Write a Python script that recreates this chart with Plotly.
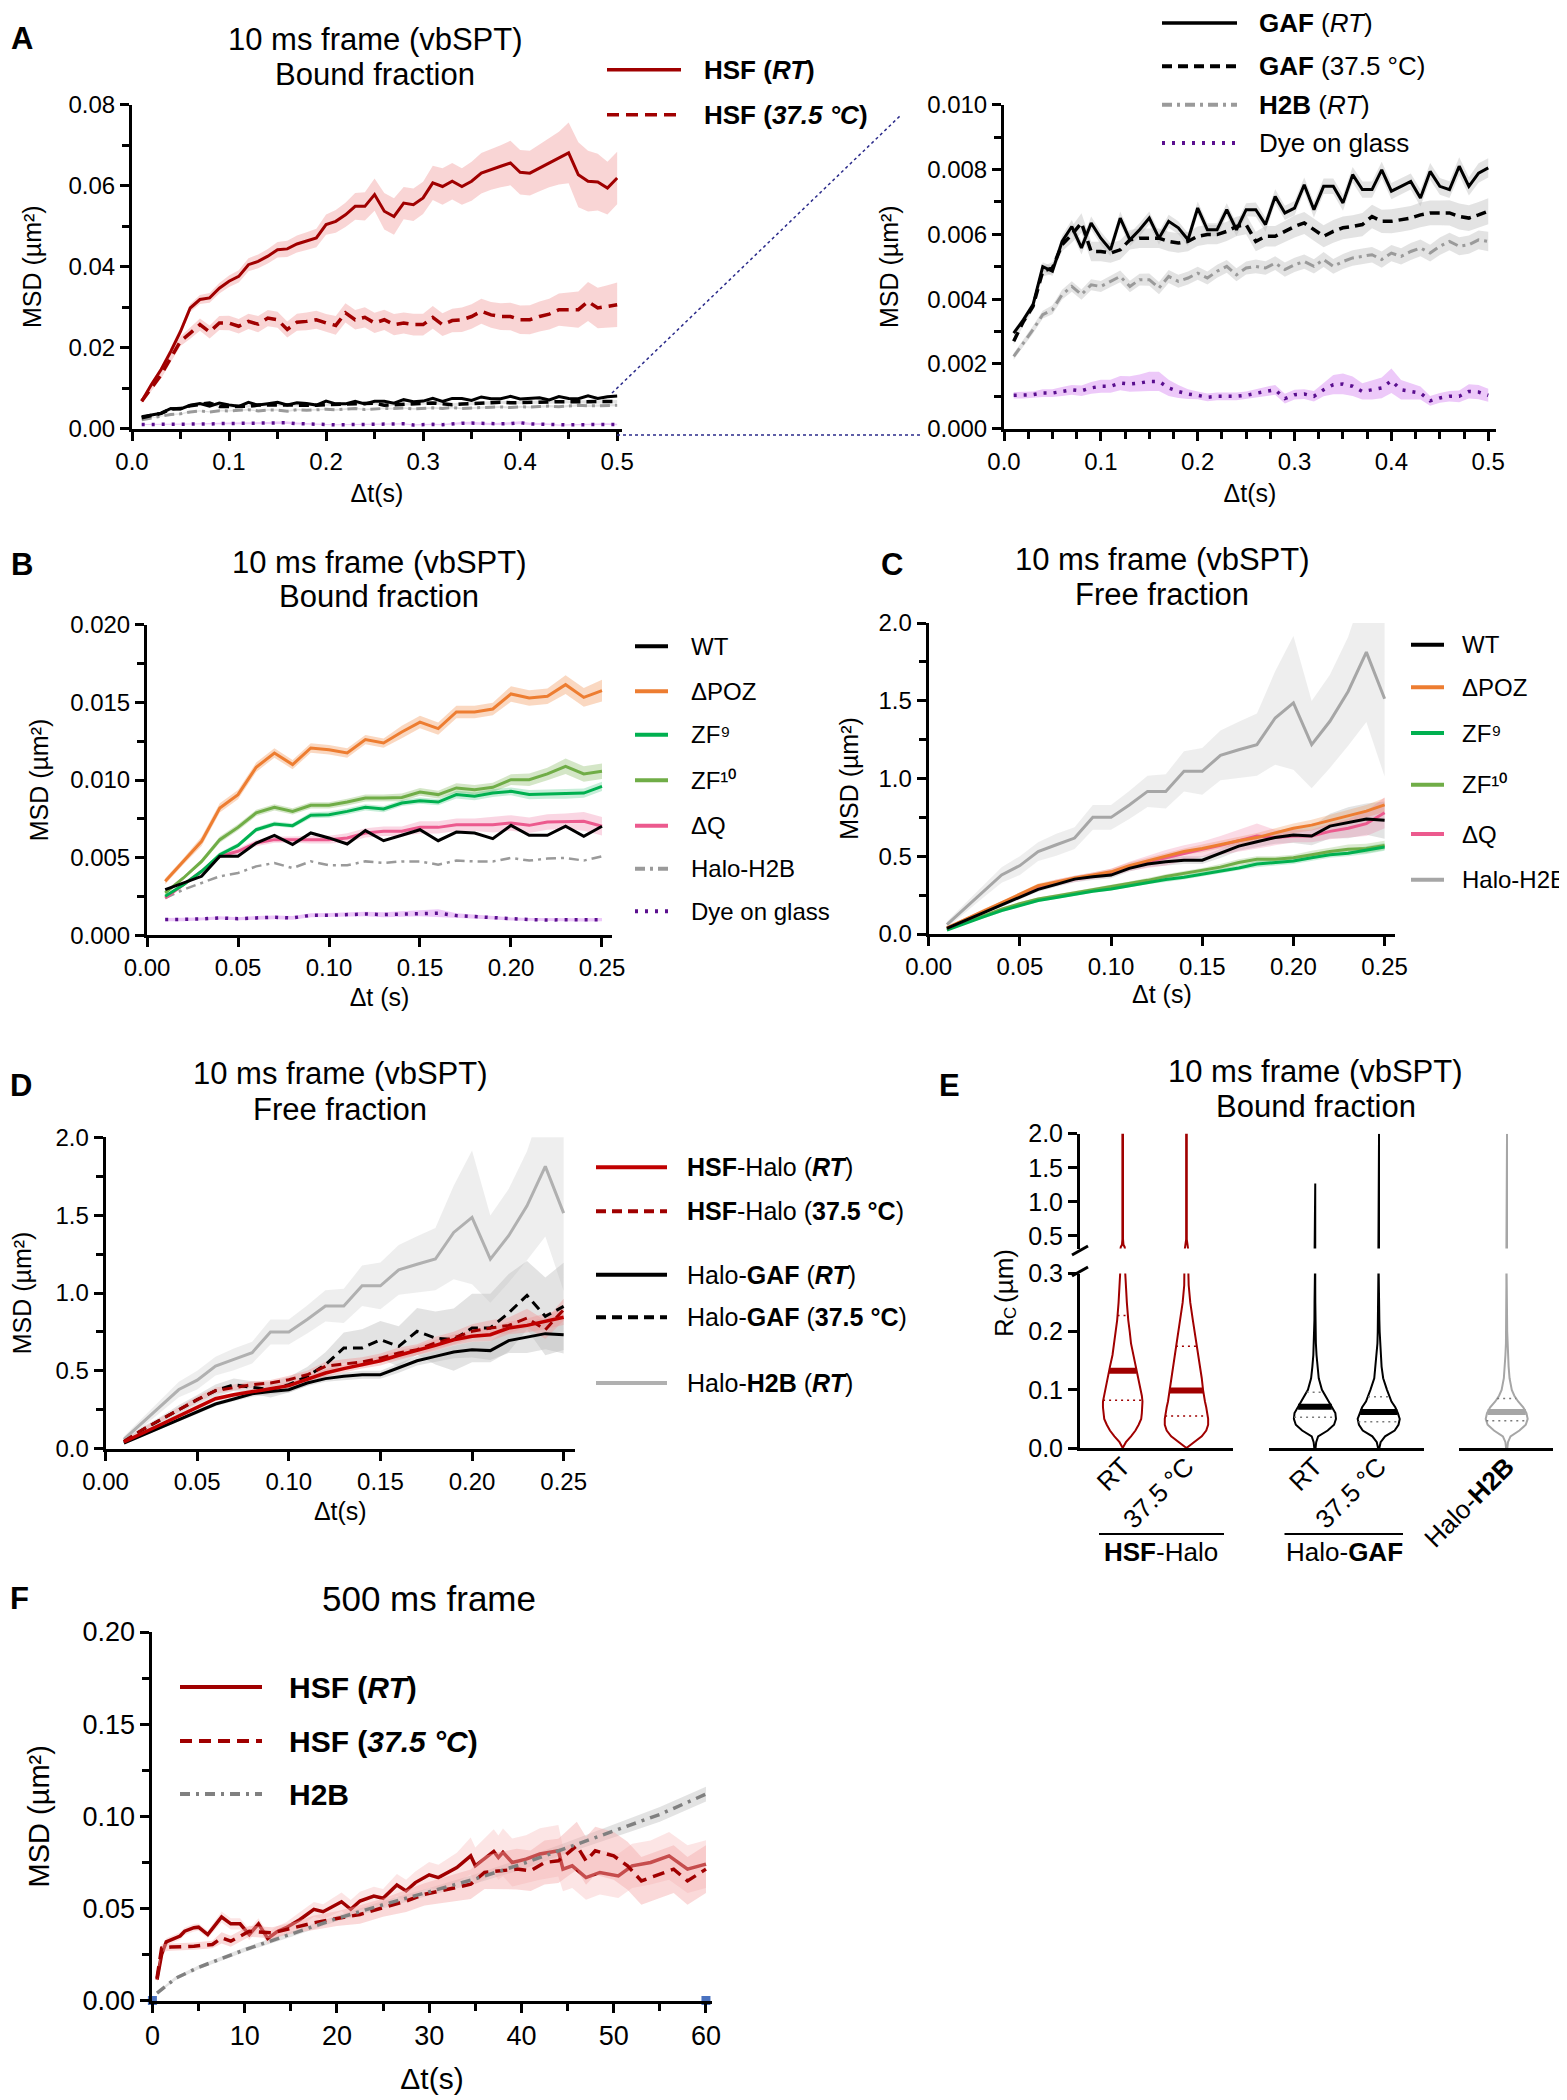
import numpy as np
import plotly.graph_objects as go

W, H = 1567, 2100
FONT = "Liberation Sans, Arial, Helvetica, sans-serif"

# ======================= DATA =======================
# ---- Panel A: 10 ms frame, bound fraction (Δt = 0.01 ... 0.50 s) ----
dt_A = np.round(np.arange(1, 51) * 0.01, 2)
hsf_rt_A = [0.0068,0.0109,0.0146,0.0191,0.024,0.0298,0.0319,0.0323,0.0347,0.0364,
            0.0376,0.0405,0.0413,0.0426,0.0442,0.0444,0.0456,0.0463,0.0471,0.0504,
            0.0512,0.0528,0.0549,0.0549,0.0578,0.0537,0.0524,0.0557,0.0553,0.057,
            0.0607,0.0598,0.0611,0.0598,0.0611,0.0631,0.064,0.0648,0.0656,0.0633,
            0.0631,0.0644,0.0656,0.0668,0.0681,0.0627,0.0611,0.0609,0.0594,0.0619]
hsf_rt_A_err = [0.0005,0.0006,0.0007,0.0008,0.0009,0.001,0.0011,0.0012,0.0013,0.0014,
                0.0015,0.0016,0.0017,0.0018,0.0019,0.002,0.0021,0.0022,0.0023,0.0025,
                0.0028,0.003,0.0033,0.0035,0.004,0.0045,0.0045,0.004,0.004,0.004,
                0.0042,0.0045,0.0045,0.0045,0.0048,0.005,0.005,0.0052,0.0055,0.0055,
                0.0055,0.0058,0.006,0.0065,0.0075,0.008,0.0075,0.007,0.0065,0.0065]
hsf_37_A = [0.0068,0.010,0.0133,0.0175,0.0216,0.0236,0.0257,0.0239,0.0261,0.0261,
            0.0253,0.0265,0.0258,0.0273,0.0269,0.0245,0.0263,0.0265,0.0269,0.0261,
            0.0255,0.0286,0.0269,0.0275,0.0261,0.0269,0.0257,0.0261,0.0257,0.0257,
            0.0275,0.0257,0.0267,0.0269,0.0277,0.029,0.0281,0.0277,0.0277,0.0269,
            0.0269,0.0277,0.0283,0.0294,0.0294,0.0294,0.0314,0.0298,0.0302,0.0306]
hsf_37_A_err = [0.0005,0.0007,0.0009,0.001,0.0012,0.0014,0.0015,0.0016,0.0017,0.0018,
                0.0018,0.0019,0.002,0.002,0.002,0.002,0.0021,0.0022,0.0022,0.0022,
                0.0023,0.0024,0.0024,0.0025,0.0025,0.0025,0.0026,0.0026,0.0027,0.0027,
                0.0028,0.0028,0.0029,0.003,0.003,0.0031,0.0032,0.0033,0.0034,0.0035,
                0.0036,0.0037,0.0038,0.004,0.0042,0.0045,0.0048,0.005,0.0052,0.0055]
gaf_rt_A = [0.00295,0.00336,0.00383,0.0050,0.00486,0.00578,0.00624,0.00558,0.00635,0.00588,
            0.00552,0.0065,0.00583,0.00614,0.0065,0.00588,0.0064,0.0062,0.00583,0.00681,
            0.00614,0.00614,0.00676,0.00614,0.00676,0.00676,0.0063,0.00717,0.00666,0.00681,
            0.00753,0.00676,0.00748,0.00748,0.00697,0.00784,0.00738,0.00738,0.00799,0.00733,
            0.00748,0.00763,0.00712,0.00794,0.00748,0.00738,0.0081,0.00748,0.00789,0.00805]
gaf_rt_A_err = [0.0001,0.0001,0.00012,0.00014,0.00015,0.00018,0.0002,0.0002,0.0002,0.0002,
                0.0002,0.0002,0.0002,0.0002,0.0002,0.0002,0.0002,0.0002,0.0002,0.0002,
                0.0002,0.0002,0.0002,0.0002,0.0002,0.00022,0.00022,0.00022,0.00022,0.00022,
                0.00022,0.00024,0.00024,0.00024,0.00024,0.00024,0.00025,0.00025,0.00025,0.00025,
                0.00025,0.00025,0.00026,0.00026,0.00026,0.00026,0.00028,0.00028,0.0003,0.0003]
gaf_37_A = [0.0027,0.00331,0.00378,0.00486,0.00496,0.00568,0.00599,0.00635,0.00547,0.00547,
            0.00542,0.00552,0.00583,0.00588,0.00588,0.00588,0.00578,0.00573,0.00578,0.00594,
            0.00599,0.00599,0.00609,0.00624,0.0063,0.00578,0.00594,0.00594,0.00609,0.00624,
            0.00635,0.00614,0.00594,0.00609,0.0062,0.00624,0.0063,0.00655,0.0064,0.0064,
            0.00645,0.0065,0.0066,0.00666,0.00666,0.00666,0.00655,0.0065,0.0066,0.00671]
gaf_37_A_err = [0.0001,0.00012,0.00014,0.00016,0.00018,0.0002,0.00025,0.0003,0.0003,0.0003,
                0.0003,0.0003,0.0003,0.0003,0.0003,0.0003,0.0003,0.0003,0.0003,0.0003,
                0.0003,0.0003,0.0003,0.0003,0.0003,0.0003,0.00032,0.00032,0.00032,0.00034,
                0.00034,0.00034,0.00034,0.00035,0.00035,0.00035,0.00036,0.00036,0.00036,0.00037,
                0.00037,0.00037,0.00038,0.00038,0.00038,0.00039,0.0004,0.0004,0.0004,0.0004]
h2b_A = [0.00223,0.00264,0.00306,0.00352,0.00367,0.00414,0.00439,0.00414,0.00444,0.00439,
         0.00455,0.0047,0.00439,0.0046,0.0046,0.00434,0.0047,0.00455,0.00465,0.0048,
         0.00465,0.00486,0.00501,0.00475,0.00496,0.00501,0.00496,0.00511,0.00491,0.00506,
         0.00516,0.00501,0.00522,0.00501,0.00516,0.00527,0.00532,0.00537,0.00522,0.00542,
         0.00532,0.00547,0.00558,0.00542,0.00563,0.00578,0.00563,0.00568,0.00583,0.00578]
h2b_A_err = [0.0001,0.0001,0.00012,0.00012,0.00014,0.00015,0.00016,0.00016,0.00017,0.00017,
             0.00018,0.00018,0.00018,0.00018,0.00019,0.00019,0.0002,0.0002,0.0002,0.0002,
             0.0002,0.0002,0.0002,0.0002,0.0002,0.00021,0.00021,0.00021,0.00022,0.00022,
             0.00022,0.00022,0.00023,0.00023,0.00023,0.00024,0.00024,0.00024,0.00025,0.00025,
             0.00025,0.00026,0.00026,0.00026,0.00027,0.00027,0.00028,0.00028,0.00029,0.0003]
dye_A = [0.00103,0.00103,0.00105,0.0011,0.0011,0.00115,0.0012,0.00117,0.00126,0.00131,
         0.00131,0.00141,0.00138,0.00141,0.00146,0.00146,0.00126,0.00115,0.00107,0.00103,
         0.00097,0.001,0.001,0.001,0.00103,0.0011,0.00115,0.0012,0.00093,0.00105,
         0.00107,0.001,0.0012,0.00136,0.00138,0.00131,0.00115,0.0012,0.00126,0.00148,
         0.0012,0.00115,0.0011,0.00086,0.00095,0.001,0.001,0.00115,0.00113,0.00103]
dye_A_err = [0.0001,0.0001,0.0001,0.00012,0.00012,0.00014,0.00015,0.00016,0.00018,0.0002,
             0.0002,0.00022,0.00024,0.00026,0.0003,0.0003,0.00025,0.0002,0.00015,0.00012,
             0.00012,0.00012,0.00012,0.00012,0.00012,0.00013,0.00014,0.00015,0.00015,0.00015,
             0.00015,0.00016,0.0002,0.0003,0.00032,0.0003,0.00025,0.0003,0.00032,0.00038,
             0.0003,0.00025,0.0002,0.00015,0.00015,0.00016,0.00018,0.00022,0.00022,0.0002]

# ---- Panels B, C, D: Δt = 0.01 ... 0.25 s ----
dt_B = np.round(np.arange(1, 26) * 0.01, 2)
b_wt = [0.00294,0.00337,0.0038,0.00509,0.00509,0.00594,0.00644,0.00584,0.00659,0.00627,
        0.00588,0.00674,0.00609,0.00644,0.0068,0.00609,0.00665,0.00659,0.00622,0.00708,
        0.00644,0.00644,0.00702,0.00637,0.00702]
b_poz = [0.00348,0.00476,0.00605,0.0082,0.00906,0.01082,0.01174,0.01099,0.01206,0.01195,
         0.01174,0.0126,0.01238,0.01309,0.01373,0.01331,0.01438,0.01438,0.01457,0.01554,
         0.01528,0.01539,0.01614,0.01532,0.01575]
b_poz_err = [0.0002,0.0002,0.0003,0.0003,0.0003,0.0003,0.0003,0.0003,0.0003,0.0003,
             0.0003,0.0003,0.0003,0.0004,0.0004,0.0004,0.0004,0.0004,0.0004,0.0005,
             0.0005,0.0005,0.0006,0.0006,0.0007]
b_zf9 = [0.00251,0.00326,0.00412,0.00519,0.00579,0.0068,0.00717,0.00706,0.00773,0.00777,
         0.00798,0.00824,0.00813,0.00852,0.00867,0.00858,0.00906,0.00895,0.00916,0.00927,
         0.00906,0.0091,0.0091,0.00916,0.00959]
b_zf9_err = [0.0001,0.0001,0.0001,0.00015,0.00015,0.00015,0.00015,0.00015,0.0002,0.0002,
             0.0002,0.0002,0.0002,0.0002,0.0002,0.0002,0.00025,0.00025,0.00025,0.00025,
             0.0003,0.0003,0.0003,0.0003,0.0003]
b_zf10 = [0.00273,0.00369,0.00476,0.00616,0.00695,0.00788,0.00824,0.00798,0.00837,0.00837,
          0.00858,0.00884,0.00884,0.00888,0.00923,0.00906,0.00949,0.00938,0.00953,0.01002,
          0.01002,0.01039,0.01088,0.01039,0.01056]
b_zf10_err = [0.0001,0.0001,0.00015,0.0002,0.0002,0.0002,0.0002,0.0002,0.0002,0.0002,
              0.00022,0.00022,0.00022,0.00025,0.00025,0.00025,0.0003,0.0003,0.0003,0.00035,
              0.0004,0.0004,0.0005,0.0005,0.0005]
b_dq = [0.0024,0.00326,0.00412,0.00509,0.00541,0.00594,0.00616,0.00616,0.00616,0.00616,
        0.00627,0.00659,0.0067,0.0067,0.00695,0.00695,0.00712,0.00712,0.00712,0.00723,
        0.00708,0.0073,0.00734,0.00734,0.00702]
b_dq_err = [0.0001,0.0001,0.00015,0.00015,0.0002,0.0002,0.0002,0.0002,0.00025,0.00025,
            0.0003,0.0003,0.0003,0.0003,0.0004,0.0004,0.0004,0.0004,0.0005,0.0005,
            0.0005,0.0005,0.0005,0.0006,0.0006]
b_h2b = [0.0024,0.00294,0.00337,0.0038,0.00401,0.00444,0.00466,0.00433,0.00476,0.00451,
         0.00451,0.00476,0.00466,0.00476,0.00476,0.00455,0.00481,0.00476,0.00476,0.00498,
         0.00481,0.00494,0.00498,0.00481,0.00509]
b_dye = [0.00101,0.00101,0.00105,0.00112,0.00107,0.00112,0.00116,0.00112,0.00129,0.00129,
         0.00133,0.00137,0.00133,0.00137,0.00142,0.00142,0.00127,0.0012,0.00112,0.00105,
         0.00101,0.00099,0.00101,0.00099,0.00101]
b_dye_err = [0.0001,0.0001,0.0001,0.0001,0.0001,0.00012,0.00012,0.00012,0.00013,0.00014,
             0.00014,0.00015,0.00016,0.00018,0.0002,0.00025,0.00015,0.00012,0.0001,0.0001,
             0.0001,0.0001,0.0001,0.0001,0.0001]

# free fraction
free_wt = [0.036,0.086,0.137,0.186,0.238,0.287,0.319,0.353,0.368,0.379,
           0.422,0.45,0.465,0.475,0.475,0.518,0.565,0.593,0.621,0.636,
           0.63,0.694,0.715,0.739,0.732]
free_wt_err = [0.005,0.01,0.01,0.01,0.015,0.015,0.015,0.02,0.02,0.02,
               0.02,0.02,0.025,0.025,0.025,0.03,0.03,0.035,0.04,0.05,
               0.06,0.08,0.1,0.1,0.12]
free_poz = [0.04,0.095,0.15,0.2,0.255,0.31,0.335,0.36,0.38,0.4,
            0.44,0.47,0.5,0.53,0.55,0.575,0.6,0.62,0.65,0.68,
            0.7,0.73,0.76,0.79,0.83]
free_poz_err = [0.005,0.01,0.01,0.01,0.01,0.015,0.015,0.015,0.015,0.02,
                0.02,0.02,0.02,0.02,0.025,0.025,0.025,0.03,0.03,0.03,
                0.035,0.035,0.04,0.04,0.045]
free_zf9 = [0.025,0.07,0.11,0.15,0.185,0.215,0.235,0.255,0.275,0.29,
            0.31,0.33,0.35,0.365,0.385,0.405,0.425,0.45,0.46,0.47,
            0.49,0.51,0.52,0.54,0.56]
free_zf9_err = [0.005,0.005,0.01,0.01,0.01,0.01,0.01,0.01,0.01,0.01,
                0.01,0.01,0.015,0.015,0.015,0.015,0.015,0.02,0.02,0.02,
                0.02,0.02,0.02,0.025,0.025]
free_zf10 = [0.03,0.075,0.12,0.16,0.195,0.225,0.245,0.265,0.285,0.305,
             0.325,0.345,0.37,0.39,0.41,0.43,0.46,0.48,0.48,0.49,
             0.51,0.53,0.545,0.55,0.57]
free_zf10_err = [0.005,0.005,0.01,0.01,0.01,0.01,0.01,0.01,0.012,0.012,
                 0.012,0.015,0.015,0.015,0.015,0.02,0.02,0.02,0.02,0.02,
                 0.025,0.025,0.03,0.03,0.03]
free_dq = [0.038,0.09,0.14,0.19,0.245,0.3,0.33,0.355,0.375,0.395,
           0.435,0.465,0.49,0.52,0.545,0.57,0.6,0.63,0.62,0.63,
           0.63,0.66,0.68,0.71,0.78]
free_dq_err = [0.005,0.01,0.01,0.01,0.015,0.015,0.02,0.02,0.02,0.025,
               0.03,0.04,0.05,0.05,0.05,0.06,0.07,0.08,0.05,0.04,
               0.04,0.05,0.06,0.08,0.1]
free_h2b = [0.06,0.167,0.274,0.38,0.44,0.53,0.574,0.617,0.75,0.75,
            0.83,0.917,0.917,1.046,1.046,1.149,1.185,1.218,1.389,1.486,
            1.218,1.368,1.56,1.813,1.513]
free_h2b_err = [0.02,0.03,0.04,0.05,0.06,0.06,0.07,0.07,0.08,0.08,
                0.09,0.1,0.11,0.13,0.15,0.16,0.18,0.2,0.3,0.43,
                0.28,0.3,0.35,0.45,0.5]
free_hsf_rt = [0.043,0.098,0.154,0.21,0.268,0.321,0.347,0.364,0.385,0.405,
               0.443,0.486,0.514,0.54,0.565,0.6,0.63,0.664,0.7,0.722,
               0.732,0.775,0.792,0.818,0.844]
free_hsf_rt_err = [0.005,0.01,0.01,0.012,0.015,0.015,0.015,0.02,0.02,0.02,
                   0.02,0.025,0.025,0.025,0.03,0.03,0.03,0.035,0.035,0.035,
                   0.04,0.04,0.045,0.05,0.05]
free_hsf_37 = [0.047,0.122,0.186,0.25,0.315,0.373,0.394,0.411,0.422,0.443,
               0.475,0.529,0.544,0.557,0.582,0.615,0.636,0.679,0.711,0.754,
               0.775,0.792,0.839,0.764,0.893]
free_hsf_37_err = [0.005,0.01,0.012,0.015,0.02,0.02,0.02,0.02,0.02,0.025,
                   0.025,0.03,0.03,0.03,0.03,0.035,0.035,0.04,0.04,0.045,
                   0.05,0.05,0.06,0.06,0.07]
free_gaf_37 = [0.045,0.12,0.186,0.25,0.315,0.373,0.411,0.394,0.379,0.411,
               0.465,0.54,0.647,0.647,0.7,0.657,0.754,0.711,0.7,0.775,
               0.775,0.872,0.985,0.85,0.914]
free_gaf_37_err = [0.01,0.02,0.02,0.03,0.03,0.04,0.04,0.04,0.05,0.05,
                   0.06,0.08,0.1,0.12,0.12,0.13,0.15,0.17,0.2,0.22,
                   0.22,0.25,0.22,0.25,0.28]

# ---- Panel E: violin outlines (R_c levels in µm, half-widths in category units) ----
e_levels = [0.0,0.01,0.02,0.03,0.04,0.05,0.06,0.07,0.08,0.09,0.10,0.12,0.14,0.16,0.18,0.20,0.22,0.25,0.28,0.30,0.34]
e_w_hsf_rt = [0.0,0.05,0.13,0.2,0.25,0.29,0.3,0.31,0.31,0.3,0.28,0.24,0.2,0.16,0.13,0.11,0.087,0.065,0.047,0.04,0.04]
e_w_hsf_37 = [0.0,0.12,0.24,0.31,0.34,0.34,0.33,0.31,0.29,0.27,0.26,0.24,0.21,0.18,0.16,0.13,0.1,0.06,0.035,0.03,0.03]
e_w_gaf_rt = [0.01,0.02,0.05,0.2,0.3,0.33,0.32,0.27,0.21,0.16,0.11,0.06,0.04,0.025,0.015,0.01,0.008,0.006,0.005,0.005,0.005]
e_w_gaf_37 = [0.01,0.03,0.1,0.25,0.31,0.33,0.3,0.26,0.2,0.16,0.13,0.07,0.045,0.035,0.02,0.015,0.01,0.007,0.005,0.005,0.005]
e_w_h2b = [0.01,0.02,0.06,0.2,0.3,0.33,0.31,0.26,0.18,0.12,0.08,0.045,0.03,0.02,0.012,0.008,0.006,0.005,0.005,0.005,0.005]
e_up_levels = [0.28,0.34,0.37,0.45]
e_up_w_hsf_rt = [0.04,0.03,0.012,0.005]
e_up_w_hsf_37 = [0.03,0.025,0.012,0.005]
e_up_w_thin = [0.005,0.005,0.005,0.005]
e_median = [0.133,0.099,0.071,0.062,0.062]
e_q1 = [0.082,0.055,0.053,0.045,0.047]
e_q3 = [0.228,0.175,0.096,0.088,0.085]
e_max = [2.0,2.0,1.27,2.0,2.0]
e_labels = ["RT", "37.5 °C", "RT", "37.5 °C", "Halo-<b>H2B</b>"]

# ---- Panel F: 500 ms frame ----
f_rt_t = [0.5,1,1.5,2,3,3.5,4.5,5,6,7.5,8.5,9.5,10.5,11.5,12.5,13.5,14.5,16,17.5,18.5,
          20.5,21.5,22.5,24,25,26.5,27.5,28.5,30,31,33,34.5,35,37,37.5,38,39,40.5,42,44,
          44.5,45.5,47,48.5,50.5,52,54,56,58,60]
f_rt = [0.0113,0.025,0.0318,0.033,0.035,0.0376,0.0395,0.0398,0.0358,0.0453,
        0.0416,0.0416,0.0358,0.0416,0.0336,0.0373,0.0395,0.044,0.0495,0.0482,
        0.0536,0.0495,0.054,0.0567,0.0555,0.0627,0.0595,0.064,0.0682,0.0667,
        0.0722,0.0785,0.0731,0.0809,0.0776,0.0804,0.0749,0.0767,0.0795,0.0813,
        0.0713,0.0731,0.0667,0.0695,0.0676,0.0731,0.0749,0.0785,0.0713,0.074]
f_rt_err = [0.002,0.002,0.002,0.002,0.002,0.002,0.002,0.002,0.002,0.003,
            0.003,0.003,0.003,0.003,0.003,0.003,0.003,0.004,0.004,0.004,
            0.005,0.005,0.005,0.005,0.005,0.006,0.006,0.006,0.007,0.007,
            0.008,0.01,0.01,0.012,0.012,0.013,0.013,0.013,0.014,0.014,
            0.012,0.012,0.012,0.012,0.012,0.012,0.012,0.013,0.013,0.013]
f_37_t = [0.5,1,2,4.5,6.5,7.5,8.5,10.5,13,15.5,17.5,20,22.5,25,27.5,29.5,32,34.5,36,37.5,
          39.5,41,42.5,44,46,47,48,50,51.5,53,54.5,56.5,58,60]
f_37 = [0.0122,0.0285,0.029,0.0295,0.0304,0.034,0.0322,0.0376,0.0367,0.0398,
        0.0422,0.0445,0.0467,0.0504,0.054,0.0576,0.0604,0.0631,0.0695,0.0704,
        0.0713,0.0704,0.0749,0.0758,0.084,0.0758,0.0813,0.0785,0.0731,0.0649,
        0.0676,0.0713,0.0649,0.0713]
f_37_err = [0.002,0.002,0.002,0.002,0.002,0.003,0.003,0.003,0.003,0.003,
            0.004,0.004,0.005,0.005,0.006,0.006,0.007,0.008,0.009,0.01,
            0.011,0.011,0.012,0.012,0.013,0.013,0.013,0.013,0.013,0.013,
            0.013,0.013,0.013,0.013]
f_h2b_t = [0.5,2.5,5,10,15,20,25,30,35,40,45,50,55,60]
f_h2b = [0.004,0.012,0.018,0.0275,0.036,0.0445,0.052,0.059,0.066,0.074,0.083,0.092,0.101,0.112]
f_h2b_err = [0.0005,0.001,0.001,0.0012,0.0015,0.0015,0.002,0.002,0.0025,0.003,0.003,0.0035,0.004,0.004]
f_ends = [0, 60]

# ======================= STYLE =======================
RED = "#a00000"
RED2 = "#c00000"
PINK_BAND = "rgba(240,150,150,0.40)"
GRAY_BAND = "rgba(185,185,185,0.40)"
LGRAY_BAND = "rgba(200,200,200,0.30)"
PURPLE = "#5a0f8f"
PURPLE_BAND = "rgba(210,120,240,0.40)"
ORANGE = "#ed7d31"
GREEN = "#00b050"
LGREEN = "#70ad47"
PINK = "#ec5a8e"
GRAY = "#a6a6a6"
DASH = "12px,7px"
DASHK = "10px,6px"
DASHDOT = "10px,5px,3px,5px"
DOT = "3px,7px"

fig = go.Figure()


def band(x, y, e, color, xa, ya):
    x = np.asarray(x, float); y = np.asarray(y, float); e = np.asarray(e, float)
    fig.add_trace(go.Scatter(x=np.concatenate([x, x[::-1]]),
                             y=np.concatenate([y + e, (y - e)[::-1]]),
                             fill="toself", fillcolor=color, line=dict(width=0),
                             mode="lines", hoverinfo="skip", showlegend=False,
                             xaxis=xa, yaxis=ya))


def line(x, y, color, width, dash, xa, ya, name):
    fig.add_trace(go.Scatter(x=x, y=y, mode="lines", name=name,
                             line=dict(color=color, width=width, dash=dash),
                             showlegend=False, xaxis=xa, yaxis=ya))


# ---------- Panel A (left: x/y, right: x2/y2) ----------
for xa, ya in (("x", "y"), ("x2", "y2")):
    band(dt_A, gaf_rt_A, gaf_rt_A_err, GRAY_BAND, xa, ya)
    band(dt_A, gaf_37_A, gaf_37_A_err, GRAY_BAND, xa, ya)
    band(dt_A, h2b_A, h2b_A_err, GRAY_BAND, xa, ya)
    band(dt_A, dye_A, dye_A_err, PURPLE_BAND, xa, ya)
band(dt_A, hsf_rt_A, hsf_rt_A_err, PINK_BAND, "x", "y")
band(dt_A, hsf_37_A, hsf_37_A_err, PINK_BAND, "x", "y")
for xa, ya in (("x", "y"), ("x2", "y2")):
    line(dt_A, h2b_A, "#9a9a9a", 3, DASHDOT, xa, ya, "H2B (RT)")
    line(dt_A, gaf_37_A, "black", 3.5, DASHK, xa, ya, "GAF (37.5 °C)")
    line(dt_A, gaf_rt_A, "black", 3, None, xa, ya, "GAF (RT)")
    line(dt_A, dye_A, PURPLE, 3.5, DOT, xa, ya, "Dye on glass")
line(dt_A, hsf_37_A, RED, 3.5, DASH, "x", "y", "HSF (37.5 °C)")
line(dt_A, hsf_rt_A, RED, 3, None, "x", "y", "HSF (RT)")

# ---------- Panel B (x3/y3) ----------
band(dt_B, b_poz, b_poz_err, "rgba(237,125,49,0.30)", "x3", "y3")
band(dt_B, b_zf10, b_zf10_err, "rgba(112,173,71,0.30)", "x3", "y3")
band(dt_B, b_zf9, b_zf9_err, "rgba(0,176,80,0.22)", "x3", "y3")
band(dt_B, b_dq, b_dq_err, "rgba(236,90,142,0.25)", "x3", "y3")
band(dt_B, b_dye, b_dye_err, PURPLE_BAND, "x3", "y3")
line(dt_B, b_h2b, "#9a9a9a", 2.5, DASHDOT, "x3", "y3", "Halo-H2B")
line(dt_B, b_dye, PURPLE, 3.5, DOT, "x3", "y3", "Dye on glass")
line(dt_B, b_dq, PINK, 3, None, "x3", "y3", "ΔQ")
line(dt_B, b_zf10, LGREEN, 3, None, "x3", "y3", "ZF10")
line(dt_B, b_zf9, GREEN, 3, None, "x3", "y3", "ZF9")
line(dt_B, b_poz, ORANGE, 3, None, "x3", "y3", "ΔPOZ")
line(dt_B, b_wt, "black", 3, None, "x3", "y3", "WT")

# ---------- Panel C (x4/y4) ----------
band(dt_B, free_h2b, free_h2b_err, LGRAY_BAND, "x4", "y4")
band(dt_B, free_wt, free_wt_err, GRAY_BAND, "x4", "y4")
band(dt_B, free_poz, free_poz_err, "rgba(237,125,49,0.25)", "x4", "y4")
band(dt_B, free_dq, free_dq_err, "rgba(236,90,142,0.22)", "x4", "y4")
band(dt_B, free_zf10, free_zf10_err, "rgba(112,173,71,0.25)", "x4", "y4")
band(dt_B, free_zf9, free_zf9_err, "rgba(0,176,80,0.20)", "x4", "y4")
line(dt_B, free_h2b, GRAY, 3, None, "x4", "y4", "Halo-H2B")
line(dt_B, free_zf10, LGREEN, 3, None, "x4", "y4", "ZF10")
line(dt_B, free_zf9, GREEN, 3, None, "x4", "y4", "ZF9")
line(dt_B, free_dq, PINK, 3, None, "x4", "y4", "ΔQ")
line(dt_B, free_poz, ORANGE, 3, None, "x4", "y4", "ΔPOZ")
line(dt_B, free_wt, "black", 3, None, "x4", "y4", "WT")

# ---------- Panel D (x5/y5) ----------
band(dt_B, free_h2b, free_h2b_err, LGRAY_BAND, "x5", "y5")
band(dt_B, free_gaf_37, free_gaf_37_err, GRAY_BAND, "x5", "y5")
band(dt_B, free_wt, free_wt_err, GRAY_BAND, "x5", "y5")
band(dt_B, free_hsf_37, free_hsf_37_err, PINK_BAND, "x5", "y5")
band(dt_B, free_hsf_rt, free_hsf_rt_err, PINK_BAND, "x5", "y5")
line(dt_B, free_h2b, "#b0b0b0", 3, None, "x5", "y5", "Halo-H2B (RT)")
line(dt_B, free_wt, "black", 3, None, "x5", "y5", "Halo-GAF (RT)")
line(dt_B, free_gaf_37, "black", 3, DASHK, "x5", "y5", "Halo-GAF (37.5 °C)")
line(dt_B, free_hsf_37, RED, 3, DASHK, "x5", "y5", "HSF-Halo (37.5 °C)")
line(dt_B, free_hsf_rt, RED2, 3.5, None, "x5", "y5", "HSF-Halo (RT)")

# ---------- Panel E (violins; x6/x7/x8 with y6 lower, y7 upper) ----------
e_specs = [
    ("x6", 0, RED, e_w_hsf_rt, e_up_w_hsf_rt),
    ("x6", 1, RED, e_w_hsf_37, e_up_w_hsf_37),
    ("x7", 0, "black", e_w_gaf_rt, e_up_w_thin),
    ("x7", 1, "black", e_w_gaf_37, e_up_w_thin),
    ("x8", 0, GRAY, e_w_h2b, e_up_w_thin),
]
lv = np.array(e_levels)
for i, (xa, pos, col, wl, wu) in enumerate(e_specs):
    wl = np.array(wl)
    fig.add_trace(go.Scatter(x=np.concatenate([pos + wl, (pos - wl)[::-1]]),
                             y=np.concatenate([lv, lv[::-1]]),
                             mode="lines", fill="toself", fillcolor="white",
                             line=dict(color=col, width=2), showlegend=False,
                             xaxis=xa, yaxis="y6"))
    ul = np.array(e_up_levels + [e_max[i]])
    uw = np.array(wu + [wu[-1]])
    fig.add_trace(go.Scatter(x=np.concatenate([pos + uw, (pos - uw)[::-1]]),
                             y=np.concatenate([ul, ul[::-1]]),
                             mode="lines", fill="toself", fillcolor="white",
                             line=dict(color=col, width=2), showlegend=False,
                             xaxis=xa, yaxis="y7"))
    for val, wdt, dsh in ((e_median[i], 6, None), (e_q1[i], 1.5, "2px,4px"), (e_q3[i], 1.5, "2px,4px")):
        hw = float(np.interp(val, lv, wl))
        fig.add_trace(go.Scatter(x=[pos - hw, pos + hw], y=[val, val], mode="lines",
                                 line=dict(color=col if dsh is None else ("#7a7a7a" if col != RED else col),
                                           width=wdt, dash=dsh),
                                 showlegend=False, xaxis=xa, yaxis="y6"))

# ---------- Panel F (x9/y8) ----------
band(f_h2b_t, f_h2b, f_h2b_err, GRAY_BAND, "x9", "y8")
band(f_rt_t, f_rt, f_rt_err, "rgba(245,170,170,0.30)", "x9", "y8")
line(f_rt_t, f_rt, RED, 3.5, None, "x9", "y8", "HSF (RT)")
band(f_37_t, f_37, f_37_err, "rgba(245,170,170,0.45)", "x9", "y8")
line(f_37_t, f_37, RED, 3.5, DASH, "x9", "y8", "HSF (37.5 °C)")
line(f_h2b_t, f_h2b, "#808080", 3.5, "10px,6px,3px,6px", "x9", "y8", "H2B")
fig.add_trace(go.Scatter(x=f_ends, y=[0, 0], mode="markers", cliponaxis=False,
                         marker=dict(symbol="square", size=9, color="#4a72c0"),
                         showlegend=False, xaxis="x9", yaxis="y8"))

# ======================= LAYOUT =======================
def xd(a, b):
    return [a / W, b / W]


def yd(top, bottom):
    return [1 - bottom / H, 1 - top / H]


MSD = "MSD (µm²)"


def ax(domain, rng, anchor, fmt, dtick=None, minor=None, size=24, title=None,
       tsize=25, standoff=None, **kw):
    d = dict(domain=domain, range=rng, anchor=anchor, showline=True, linecolor="black",
             linewidth=3, ticks="outside", ticklen=9, tickwidth=3, tickcolor="black",
             showgrid=False, zeroline=False, tickformat=fmt, automargin=False,
             tickfont=dict(family=FONT, size=size, color="black"), fixedrange=True)
    if dtick is not None:
        d["dtick"] = dtick
        d["tick0"] = 0
    if minor is not None:
        d["minor"] = dict(dtick=minor, tick0=0, ticks="outside", ticklen=7, tickwidth=3,
                          tickcolor="black", showgrid=False)
    if title is not None:
        d["title"] = dict(text=title, standoff=standoff,
                          font=dict(family=FONT, size=tsize, color="black"))
    d.update(kw)
    return d


layout = dict(
    width=W, height=H, margin=dict(l=0, r=0, t=0, b=0),
    paper_bgcolor="white", plot_bgcolor="white", showlegend=False,
    font=dict(family=FONT, color="black"),
    # A left
    xaxis=ax(xd(124, 614), [0, 0.505], "y", ".1f", 0.1, 0.05, title="Δt(s)", standoff=11),
    yaxis=ax(yd(96.7, 420.7), [0, 0.08], "x", ".2f", 0.02, 0.01, title=MSD, standoff=20),
    # A right
    xaxis2=ax(xd(996, 1488), [0, 0.508], "y2", ".1f", 0.1, 0.025, title="Δt(s)", standoff=11),
    yaxis2=ax(yd(96.7, 420.7), [0, 0.010], "x2", ".3f", 0.002, 0.001, title=MSD, standoff=22),
    # B
    xaxis3=ax(xd(139, 604), [0, 0.2555], "y3", ".2f", 0.05, title="Δt (s)", standoff=9),
    yaxis3=ax(yd(616.7, 927.3), [0, 0.020], "x3", ".3f", 0.005, 0.0025, title=MSD, standoff=15),
    # C
    xaxis4=ax(xd(920.7, 1387), [0, 0.2557], "y4", ".2f", 0.05, title="Δt (s)", standoff=7),
    yaxis4=ax(yd(615, 926), [0, 2.0], "x4", ".1f", 0.5, 0.25, title=MSD, standoff=13),
    # D
    xaxis5=ax(xd(97.6, 567), [0, 0.2562], "y5", ".2f", 0.05, title="Δt(s)", standoff=9),
    yaxis5=ax(yd(1129.3, 1440.7), [0, 2.0], "x5", ".1f", 0.5, 0.25, title=MSD, standoff=17),
    # E
    xaxis6=ax(xd(1072, 1225), [-0.67, 1.73], "y6", None, ticks="", tickvals=[0, 1],
              ticktext=e_labels[0:2], tickangle=-45, tickformat=None, size=26,
              ticklabelstandoff=-10),
    xaxis7=ax(xd(1261, 1416), [-0.72, 1.71], "y6", None, ticks="", tickvals=[0, 1],
              ticktext=e_labels[2:4], tickangle=-45, tickformat=None, size=26,
              ticklabelstandoff=-10),
    xaxis8=ax(xd(1451, 1544.5), [-0.75, 0.72], "y6", None, ticks="", tickvals=[0],
              ticktext=e_labels[4:5], tickangle=-45, tickformat=None, size=26,
              ticklabelstandoff=-10),
    yaxis6=ax(yd(1265.6, 1440), [0, 0.3], "x6", ".1f", 0.1, size=25),
    yaxis7=ax(yd(1125.7, 1240.6), [0.315, 2.0], "x6", ".1f", tickvals=[0.5, 1.0, 1.5, 2.0], size=25),
    # F
    xaxis9=ax(xd(144.4, 703.5), [0, 60.6], "y8", "d", 10, 5, size=27, title="Δt(s)",
              tsize=30, standoff=19),
    yaxis8=ax(yd(1624, 1992.5), [0, 0.20], "x9", ".2f", 0.05, 0.025, size=27, title=MSD,
              tsize=29, standoff=25),
)
fig.update_layout(**layout)

# ---------- text & decorations ----------
ann = []
shp = []


def text(x, y, s, size, angle=0, anchor="center"):
    ann.append(dict(xref="paper", yref="paper", x=x / W, y=1 - y / H, text=s,
                    showarrow=False, xanchor=anchor, yanchor="middle", textangle=angle,
                    font=dict(family=FONT, size=size, color="black")))


def seg(x0, y0, x1, y1, color="black", width=3, dash=None):
    shp.append(dict(type="line", xref="paper", yref="paper", x0=x0 / W, x1=x1 / W,
                    y0=1 - y0 / H, y1=1 - y1 / H, line=dict(color=color, width=width, dash=dash)))


# panel letters
for letter, (lx, ly) in {"A": (14, 31), "B": (14, 556), "C": (884, 556),
                         "D": (13, 1077), "E": (941, 1077), "F": (11, 1590)}.items():
    text(lx, ly, "<b>%s</b>" % letter, 31)

# panel titles
for cx, y1, y2, l2 in ((367, 31.7, 66.7, "Bound fraction"), (371, 555, 588.3, "Bound fraction"),
                       (1154, 551.7, 586.7, "Free fraction"), (332, 1065, 1101.7, "Free fraction"),
                       (1307.5, 1063, 1098, "Bound fraction")):
    text(cx, y1, "10 ms frame (vbSPT)", 31)
    text(cx, y2, l2, 31)
text(421, 1590, "500 ms frame", 35)

# E y title "R_C (µm)", centred on the whole broken axis (subscript drawn as its own small text)
text(996, 1320, "R", 26, angle=-90)
text(1002, 1305, "C", 17, angle=-90)
text(996, 1268, "(µm)", 26, angle=-90)

# legends
def leg(x0, x1, xt, y, color, width, dash, label, size):
    seg(x0, y, x1, y, color, width, dash)
    text(xt, y, label, size, anchor="left")


leg(599, 673, 694, 61.7, RED, 3.5, None, "<b>HSF (<i>RT</i>)</b>", 26)
leg(599, 673, 694, 106.7, RED, 3.5, DASH, "<b>HSF (<i>37.5 °C</i>)</b>", 26)
leg(1154, 1229, 1249, 15, "black", 3.5, None, "<b>GAF</b> (<i>RT</i>)", 26)
leg(1154, 1229, 1249, 58.3, "black", 4, DASHK, "<b>GAF</b> (37.5 °C)", 26)
leg(1154, 1229, 1249, 96.7, "#9a9a9a", 4, DASHDOT, "<b>H2B</b> (<i>RT</i>)", 26)
leg(1154, 1229, 1249, 135, PURPLE, 4, DOT, "Dye on glass", 26)

b_items = [("black", None, "WT"), (ORANGE, None, "ΔPOZ"), (GREEN, None, "ZF⁹"),
           (LGREEN, None, "ZF¹⁰"), (PINK, None, "ΔQ"),
           ("#9a9a9a", DASHDOT, "Halo-H2B"), (PURPLE, DOT, "Dye on glass")]
for (c, d, s), y in zip(b_items, [638.3, 683.3, 726.7, 772.3, 817.7, 860.7, 903.3]):
    leg(627, 660, 681, y, c, 4, d, s, 24)
c_items = [("black", "WT"), (ORANGE, "ΔPOZ"), (GREEN, "ZF⁹"),
           (LGREEN, "ZF¹⁰"), (PINK, "ΔQ"), (GRAY, "Halo-H2B")]
for (c, s), y in zip(c_items, [636.7, 679.3, 725, 776.7, 826, 871.7]):
    leg(1403, 1436, 1452, y, c, 4, None, s, 24)
d_items = [(RED2, None, "<b>HSF</b>-Halo (<b><i>RT</i></b>)"),
           (RED, DASHK, "<b>HSF</b>-Halo (<b>37.5 °C</b>)"),
           ("black", None, "Halo-<b>GAF</b> (<b><i>RT</i></b>)"),
           ("black", DASHK, "Halo-<b>GAF</b> (<b>37.5 °C</b>)"),
           ("#b0b0b0", None, "Halo-<b>H2B</b> (<b><i>RT</i></b>)")]
for (c, d, s), y in zip(d_items, [1159.3, 1203.3, 1266.7, 1309.3, 1375]):
    leg(588, 659, 677, y, c, 4, d, s, 25)
leg(172, 254, 279, 1679, RED, 4, None, "<b>HSF (<i>RT</i>)</b>", 30)
leg(172, 254, 279, 1733, RED, 4, DASH, "<b>HSF (<i>37.5 °C</i>)</b>", 30)
leg(172, 254, 279, 1786, "#808080", 4, "10px,6px,3px,6px", "<b>H2B</b>", 30)

# zoom connectors (panel A)
seg(604, 385, 893, 107, "#2a2a8a", 1.5, "dot")
seg(609, 427, 915, 427, "#2a2a8a", 1.5, "dot")

# panel E: axis break marks and group labels
seg(1064, 1247, 1080, 1238, "black", 3)
seg(1064, 1268, 1080, 1259, "black", 3)
seg(1091, 1526, 1216, 1526, "black", 2)
seg(1276.5, 1526, 1395, 1526, "black", 2)
text(1153, 1544, "<b>HSF</b>-Halo", 26)
text(1336, 1544, "Halo-<b>GAF</b>", 26)

fig.update_layout(annotations=ann, shapes=shp)
fig.write_html("out.html")
